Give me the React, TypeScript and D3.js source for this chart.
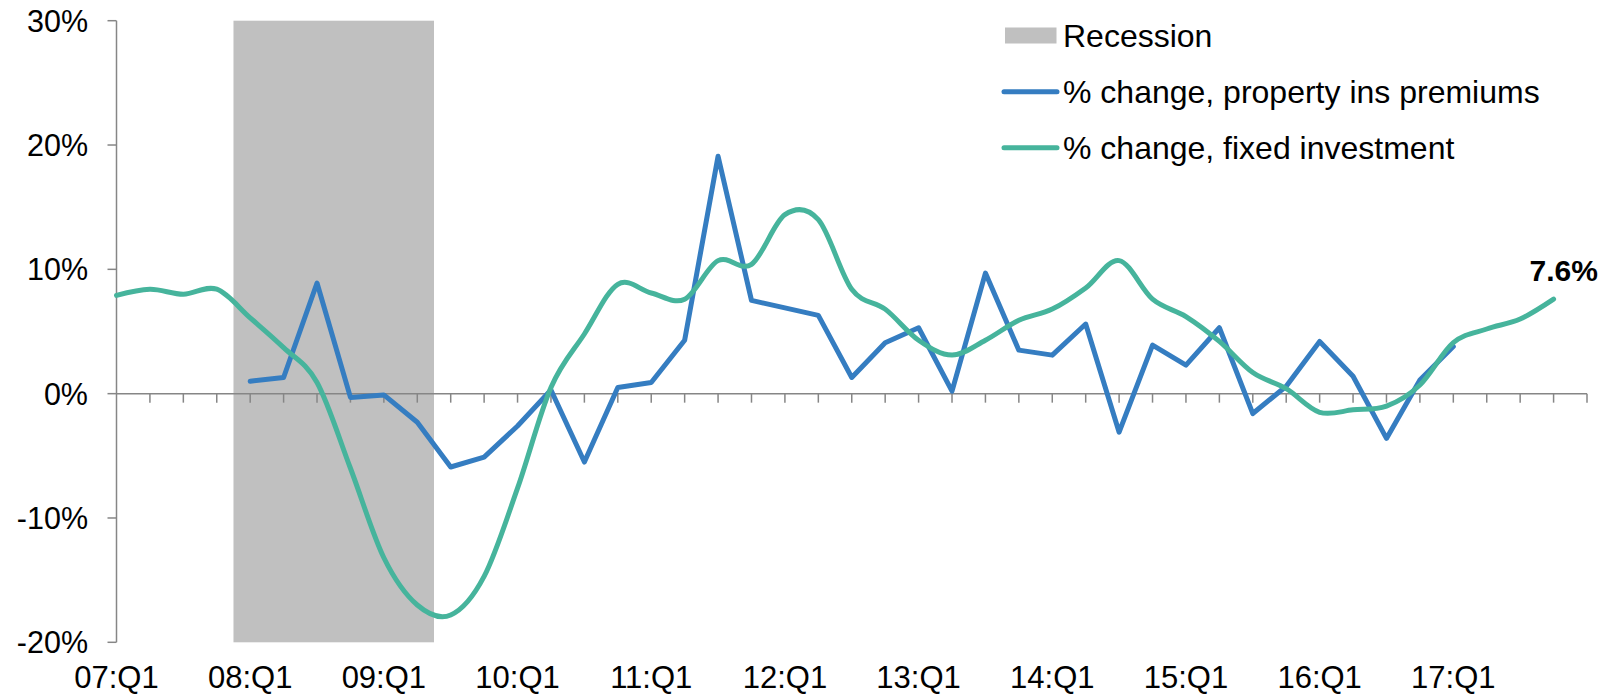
import React from "react";
import * as d3 from "d3";

// Quarterly categories, 07:Q1 .. 17:Q4 (plus one trailing slot on the axis)
const quarters: string[] = [
  "07:Q1", "07:Q2", "07:Q3", "07:Q4",
  "08:Q1", "08:Q2", "08:Q3", "08:Q4",
  "09:Q1", "09:Q2", "09:Q3", "09:Q4",
  "10:Q1", "10:Q2", "10:Q3", "10:Q4",
  "11:Q1", "11:Q2", "11:Q3", "11:Q4",
  "12:Q1", "12:Q2", "12:Q3", "12:Q4",
  "13:Q1", "13:Q2", "13:Q3", "13:Q4",
  "14:Q1", "14:Q2", "14:Q3", "14:Q4",
  "15:Q1", "15:Q2", "15:Q3", "15:Q4",
  "16:Q1", "16:Q2", "16:Q3", "16:Q4",
  "17:Q1", "17:Q2", "17:Q3", "17:Q4",
];

const xTickLabels: string[] = [
  "07:Q1", "08:Q1", "09:Q1", "10:Q1", "11:Q1", "12:Q1",
  "13:Q1", "14:Q1", "15:Q1", "16:Q1", "17:Q1",
];

const yTicks: number[] = [-20, -10, 0, 10, 20, 30];

const recessionQuarters: string[] = ["08:Q1", "08:Q2", "08:Q3", "08:Q4", "09:Q1", "09:Q2"];

// % change, property ins premiums (08:Q1 .. 17:Q1)
const premiumsStart = "08:Q1";
const premiums: number[] = [
  1.0, 1.3, 8.9, -0.3, -0.1, -2.3, -5.9, -5.1,
  -2.6, 0.3, -5.5, 0.5, 0.9, 4.3, 19.1, 7.5,
  6.9, 6.3, 1.3, 4.1, 5.3, 0.2, 9.7, 3.5,
  3.1, 5.6, -3.1, 3.9, 2.3, 5.3, -1.6, 0.6,
  4.2, 1.4, -3.6, 1.1, 3.8,
];

// % change, fixed investment (07:Q1 .. 17:Q4)
const fixedInvestment: number[] = [
  7.9, 8.4, 8.0, 8.4, 6.1, 3.7, 0.9, -6.0,
  -13.2, -17.0, -17.8, -14.7, -7.6, 0.5, 4.8, 8.8,
  8.1, 7.6, 10.7, 10.4, 14.4, 14.0, 8.4, 6.8,
  4.3, 3.1, 4.3, 5.9, 6.8, 8.5, 10.7, 7.6,
  6.2, 4.2, 1.7, 0.4, -1.5, -1.3, -1.0, 0.7,
  4.1, 5.2, 6.0, 7.6,
];

const legendItems: string[] = [
  "Recession",
  "% change, property ins premiums",
  "% change, fixed investment",
];

const W = 1608;
const H = 695;
const BLUE = "#357DC1";
const GREEN = "#46B49C";
const GRAY = "#C0C0C0";
const AXIS = "#868686";
const FONT = "'Liberation Sans', Arial, sans-serif";

export default function App() {
  const x = d3.scaleLinear().domain([0, quarters.length]).range([116.5, 1587]);
  const y = d3.scaleLinear().domain([-20, 30]).range([642.3, 20.7]);

  const startIdx = quarters.indexOf(premiumsStart);
  const premiumPts: [number, number][] = premiums.map((v, i) => [x(startIdx + i), y(v)]);
  const investPts: [number, number][] = fixedInvestment.map((v, i) => [x(i), y(v)]);

  const straight = d3.line().curve(d3.curveLinear);
  const smooth = d3.line().curve(d3.curveCardinal.tension(0));

  const recFirst = quarters.indexOf(recessionQuarters[0]);
  const recLast = quarters.indexOf(recessionQuarters[recessionQuarters.length - 1]);

  const tickIdx = d3.range(1, quarters.length + 1);
  const lastIdx = fixedInvestment.length - 1;
  const lastVal = fixedInvestment[lastIdx];

  return (
    <div style={{ position: "absolute", left: 0, top: 0 }}>
      <svg width={W} height={H} style={{ display: "block", background: "#fff" }}>
        {/* recession shading */}
        <rect
          x={x(recFirst - 0.5)}
          y={y(30)}
          width={x(recLast + 0.5) - x(recFirst - 0.5)}
          height={y(-20) - y(30)}
          fill={GRAY}
        />

        {/* y axis */}
        <line x1={x(0)} x2={x(0)} y1={y(30)} y2={y(-20)} stroke={AXIS} strokeWidth={1.5} />
        {yTicks.map((t) => (
          <g key={t}>
            <line x1={x(0) - 9} x2={x(0)} y1={y(t)} y2={y(t)} stroke={AXIS} strokeWidth={1.5} />
            <text
              x={88}
              y={y(t)}
              dy="0.36em"
              textAnchor="end"
              fontFamily={FONT}
              fontSize={30.5}
              fill="#000"
            >
              {`${t}%`}
            </text>
          </g>
        ))}

        {/* x axis at 0% */}
        <line x1={x(0)} x2={x(quarters.length)} y1={y(0)} y2={y(0)} stroke={AXIS} strokeWidth={1.5} />
        {tickIdx.map((i) => (
          <line key={i} x1={x(i)} x2={x(i)} y1={y(0)} y2={y(0) + 9} stroke={AXIS} strokeWidth={1.5} />
        ))}
        {xTickLabels.map((lab) => (
          <text
            key={lab}
            x={x(quarters.indexOf(lab))}
            y={688}
            textAnchor="middle"
            fontFamily={FONT}
            fontSize={31}
            fill="#000"
          >
            {lab}
          </text>
        ))}

        {/* series */}
        <path d={straight(premiumPts) || ""} fill="none" stroke={BLUE} strokeWidth={5} strokeLinejoin="round" strokeLinecap="round" />
        <path d={smooth(investPts) || ""} fill="none" stroke={GREEN} strokeWidth={5} strokeLinejoin="round" strokeLinecap="round" />

        {/* end label */}
        <text
          x={x(lastIdx) - 24}
          y={y(lastVal) - 18}
          fontFamily={FONT}
          fontSize={30}
          fontWeight="bold"
          fill="#000"
        >
          {`${lastVal}%`}
        </text>

        {/* legend */}
        <rect x={1005} y={27.5} width={51.5} height={16} fill={GRAY} />
        <text x={1063} y={35.5} dy="0.36em" fontFamily={FONT} fontSize={32} fill="#000">
          {legendItems[0]}
        </text>
        <line x1={1004} x2={1057} y1={91.7} y2={91.7} stroke={BLUE} strokeWidth={5} strokeLinecap="round" />
        <text x={1063} y={91.7} dy="0.36em" fontFamily={FONT} fontSize={32} fill="#000">
          {legendItems[1]}
        </text>
        <line x1={1004} x2={1057} y1={147.7} y2={147.7} stroke={GREEN} strokeWidth={5} strokeLinecap="round" />
        <text x={1063} y={147.7} dy="0.36em" fontFamily={FONT} fontSize={32} fill="#000">
          {legendItems[2]}
        </text>
      </svg>
    </div>
  );
}
